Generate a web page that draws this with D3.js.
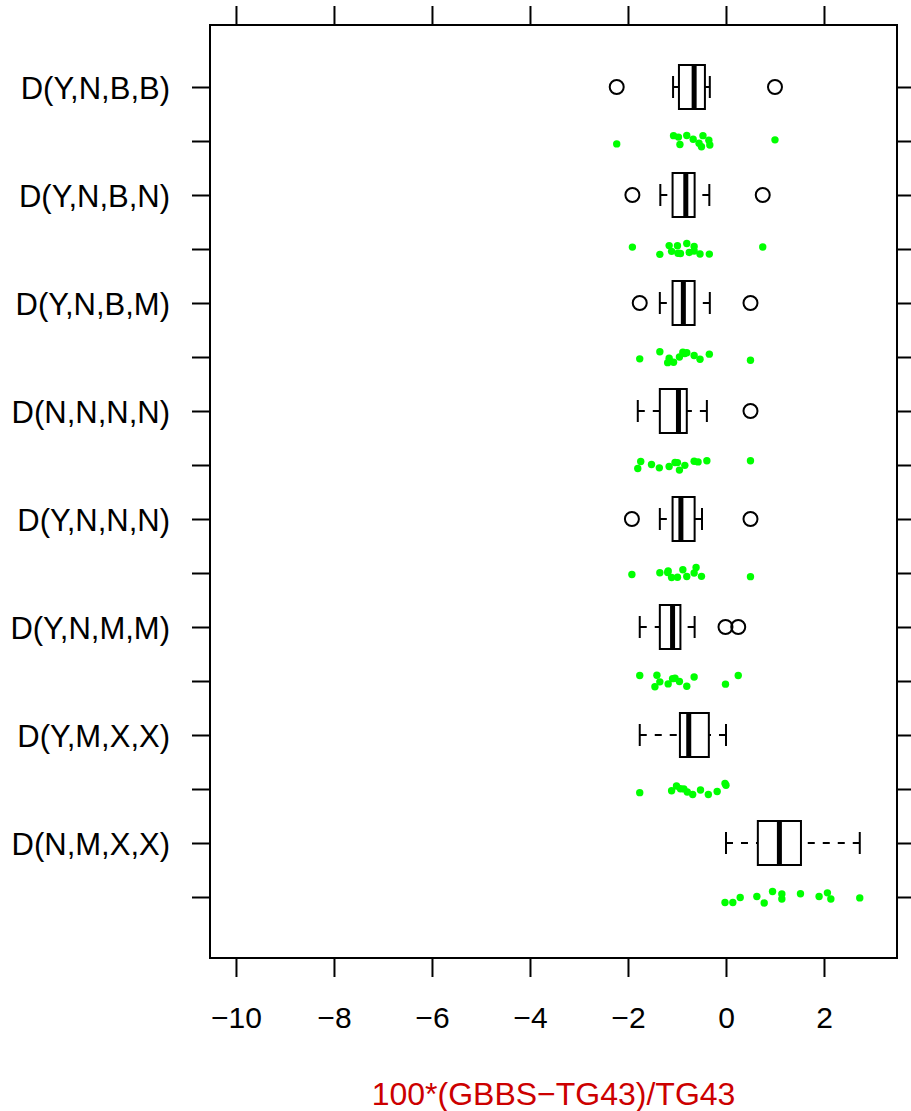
<!DOCTYPE html>
<html><head><meta charset="utf-8">
<script src="https://cdn.jsdelivr.net/npm/d3@7"></script>
<style>
body{margin:0;background:#fff}
text{font-family:"Liberation Sans",Arial,Helvetica,sans-serif}
</style>
</head><body>
<svg id="chart" width="911" height="1111"></svg>
<script>
// ---------- data ----------
const categories = ["D(Y,N,B,B)","D(Y,N,B,N)","D(Y,N,B,M)","D(N,N,N,N)","D(Y,N,N,N)","D(Y,N,M,M)","D(Y,M,X,X)","D(N,M,X,X)"];
const whiskerLow  = [-1.08,-1.34,-1.35,-1.80,-1.35,-1.76,-1.76, 0.00];
const quart1      = [-0.96,-1.09,-1.09,-1.35,-1.09,-1.35,-0.94, 0.65];
const medians     = [-0.65,-0.82,-0.87,-0.97,-0.92,-1.09,-0.76, 1.09];
const quart3      = [-0.43,-0.64,-0.64,-0.80,-0.64,-0.93,-0.35, 1.53];
const whiskerHigh = [-0.33,-0.34,-0.33,-0.39,-0.49,-0.64, 0.00, 2.73];
const outliers = [[-2.23,1.00],[-1.91,0.75],[-1.76,0.50],[0.50],[-1.92,0.50],[-0.01,0.25],[],[]];
const pointsG1 = [-2.23,-1.07,-0.97,-0.94,-0.80,-0.67,-0.55,-0.50,-0.47,-0.35,-0.33,1.00];
const pointsG2 = [-1.91,-1.35,-1.16,-1.11,-0.99,-0.98,-0.93,-0.80,-0.75,-0.65,-0.65,-0.53,-0.34,0.75];
const pointsG3 = [-1.76,-1.35,-1.19,-1.16,-1.07,-0.95,-0.88,-0.84,-0.80,-0.65,-0.53,-0.34,0.50];
const pointsG4 = [-1.80,-1.74,-1.52,-1.36,-1.16,-1.04,-0.99,-0.95,-0.84,-0.65,-0.57,-0.39,0.50];
const pointsG5 = [-1.92,-1.35,-1.18,-1.19,-1.11,-0.99,-0.88,-0.80,-0.65,-0.61,-0.50,0.50];
const pointsG6 = [-1.76,-1.45,-1.41,-1.35,-1.18,-1.09,-1.04,-0.95,-0.80,-0.65,-0.01,0.25];
const pointsG7 = [-1.76,-1.11,-1.01,-0.93,-0.86,-0.79,-0.68,-0.52,-0.36,-0.18,-0.02,0.00];
const pointsG8 = [-0.02,0.14,0.29,0.63,0.78,0.95,1.14,1.14,1.52,1.90,2.07,2.14,2.73];
const pointGroups = [pointsG1,pointsG2,pointsG3,pointsG4,pointsG5,pointsG6,pointsG7,pointsG8];
const xTicks = [-10,-8,-6,-4,-2,0,2];
const xDomain = [-10.53, 3.49];
const xLabel = "100*(GBBS\u2212TG43)/TG43";

// ---------- layout ----------
const L = 210, R = 897, T = 25, B = 958;
const svg = d3.select("#chart");
const x = d3.scaleLinear().domain(xDomain).range([L, R]);
const slots = d3.range(categories.length * 2);
const y = d3.scalePoint().domain(slots).range([87, 897]);
const boxHalf = 22, capHalf = 11;

// frame
svg.append("rect").attr("x", L).attr("y", T).attr("width", R - L).attr("height", B - T)
  .attr("fill", "none").attr("stroke", "#000").attr("stroke-width", 2);

function styleAxis(g){
  g.select(".domain").remove();
  g.selectAll(".tick line").attr("stroke", "#000").attr("stroke-width", 2);
  g.selectAll("text").attr("fill", "#000").style("font-size", "30px");
}

// bottom axis
svg.append("g").attr("transform", `translate(0,${B})`)
  .call(d3.axisBottom(x).tickValues(xTicks).tickSize(19).tickPadding(30).tickSizeOuter(0))
  .call(styleAxis);
// top axis (ticks only)
svg.append("g").attr("transform", `translate(0,${T})`)
  .call(d3.axisTop(x).tickValues(xTicks).tickSize(19).tickFormat("").tickSizeOuter(0))
  .call(styleAxis);
// left axis
svg.append("g").attr("transform", `translate(${L},0)`)
  .call(d3.axisLeft(y).tickSize(18).tickPadding(22).tickSizeOuter(0)
    .tickFormat(s => s % 2 === 0 ? categories[s / 2] : ""))
  .call(styleAxis)
  .call(g => g.selectAll("text").attr("dy", "0.36em").style("font-size", "31px"));
// right axis (ticks only)
svg.append("g").attr("transform", `translate(${R},0)`)
  .call(d3.axisRight(y).tickSize(19).tickFormat("").tickSizeOuter(0))
  .call(styleAxis);

// boxes
const boxData = categories.map((c, i) => ({
  i, lo: whiskerLow[i], q1: quart1[i], med: medians[i], q3: quart3[i], hi: whiskerHigh[i], out: outliers[i]
}));
const bg = svg.append("g");
boxData.forEach(d => {
  const cy = y(d.i * 2);
  const g = bg.append("g");
  // whiskers (dashed, drawn from whisker end toward box)
  g.append("line").attr("x1", x(d.lo)).attr("x2", x(d.q1)).attr("y1", cy).attr("y2", cy)
    .attr("stroke", "#000").attr("stroke-width", 2).attr("stroke-dasharray", "7,8");
  g.append("line").attr("x1", x(d.hi)).attr("x2", x(d.q3)).attr("y1", cy).attr("y2", cy)
    .attr("stroke", "#000").attr("stroke-width", 2).attr("stroke-dasharray", "7,8");
  // caps
  [d.lo, d.hi].forEach(v => g.append("line").attr("x1", x(v)).attr("x2", x(v))
    .attr("y1", cy - capHalf).attr("y2", cy + capHalf).attr("stroke", "#000").attr("stroke-width", 2));
  // box
  g.append("rect").attr("x", x(d.q1)).attr("y", cy - boxHalf)
    .attr("width", x(d.q3) - x(d.q1)).attr("height", boxHalf * 2)
    .attr("fill", "#fff").attr("stroke", "#000").attr("stroke-width", 2);
  // median
  g.append("line").attr("x1", x(d.med)).attr("x2", x(d.med))
    .attr("y1", cy - boxHalf).attr("y2", cy + boxHalf).attr("stroke", "#000").attr("stroke-width", 5);
  // outliers
  g.selectAll("circle.out").data(d.out).join("circle").attr("class", "out")
    .attr("cx", v => x(v)).attr("cy", cy).attr("r", 7)
    .attr("fill", "none").attr("stroke", "#000").attr("stroke-width", 2);
});

// jittered points (deterministic jitter)
const jit = d3.randomUniform.source(d3.randomLcg(0.4242))(-6, 6);
const pg = svg.append("g");
pointGroups.forEach((arr, i) => {
  const cy = y(i * 2 + 1);
  pg.selectAll(null).data(arr).join("circle")
    .attr("cx", v => x(v)).attr("cy", () => cy + jit()).attr("r", 3.7)
    .attr("fill", "#00FF00");
});

// x label
svg.append("text").attr("x", (L + R) / 2).attr("y", 1105).attr("text-anchor", "middle")
  .attr("fill", "#CC0000").style("font-size", "32px").text(xLabel);
</script>
</body></html>
